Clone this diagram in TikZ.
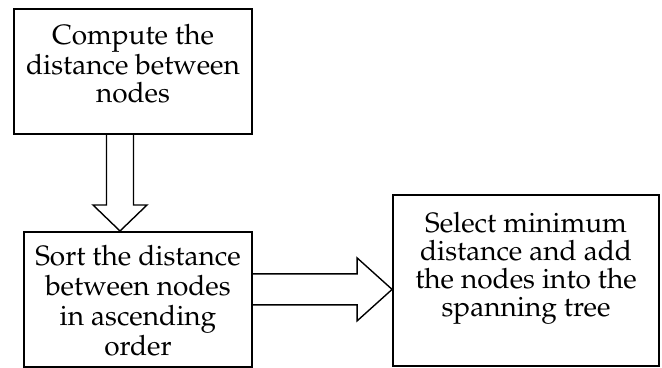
\documentclass[tikz,border=0pt]{standalone}
\usepackage[T1]{fontenc}
\usepackage{mathpazo}
\usepackage{tikz}
\usetikzlibrary{calc}
\tikzset{stepbox/.style={draw, line width=0.9pt, align=center, anchor=north,
    inner xsep=2pt, inner ysep=3pt, font=\fontsize{14}{14}\selectfont},
  blockarrow/.style={line width=0.7pt, line join=miter}}

\begin{document}
\begin{tikzpicture}[x=0.5pt,y=-0.5pt]
        \useasboundingbox (0,0) rectangle (662,368);

        %%% Boxes %%%
        \node[stepbox, minimum width=119pt, text height=44pt, text depth=12.5pt] (dist) at (133,8)
            {Compute the\\distance between\\nodes};
        \node[stepbox, minimum width=114pt, text height=59pt, text depth=2.5pt,
            font=\fontsize{14}{15}\selectfont] (sort) at (138,231)
            {Sort the distance\\between nodes\\in ascending\\order};
        \node[stepbox, minimum width=133pt, text height=58pt, text depth=21.5pt] (select) at (526,194)
            {Select minimum\\distance and add\\the nodes into the\\spanning tree};

        %%% Arrow down %%%
        \coordinate (dtail) at ($(dist.south)+(-13,0)$);
        \coordinate (dtip) at (dtail |- sort.north);
        \draw[blockarrow] ($(dtail)+(-13.5,0)$) -- ($(dtip)+(-13.5,-26)$) -- ($(dtip)+(-27,-26)$)
            -- (dtip) -- ($(dtip)+(27,-26)$) -- ($(dtip)+(13.5,-26)$) -- ($(dtail)+(13.5,0)$);

        %%% Arrow right %%%
        \coordinate (rtail) at ($(sort.east)+(0,-10)$);
        \coordinate (rtip) at (select.west |- rtail);
        \draw[blockarrow] ($(rtail)+(0,-15.5)$) -- ($(rtip)+(-35,-15.5)$) -- ($(rtip)+(-35,-31.5)$)
            -- (rtip) -- ($(rtip)+(-35,31.5)$) -- ($(rtip)+(-35,15.5)$) -- ($(rtail)+(0,15.5)$);
\end{tikzpicture}
\end{document}
